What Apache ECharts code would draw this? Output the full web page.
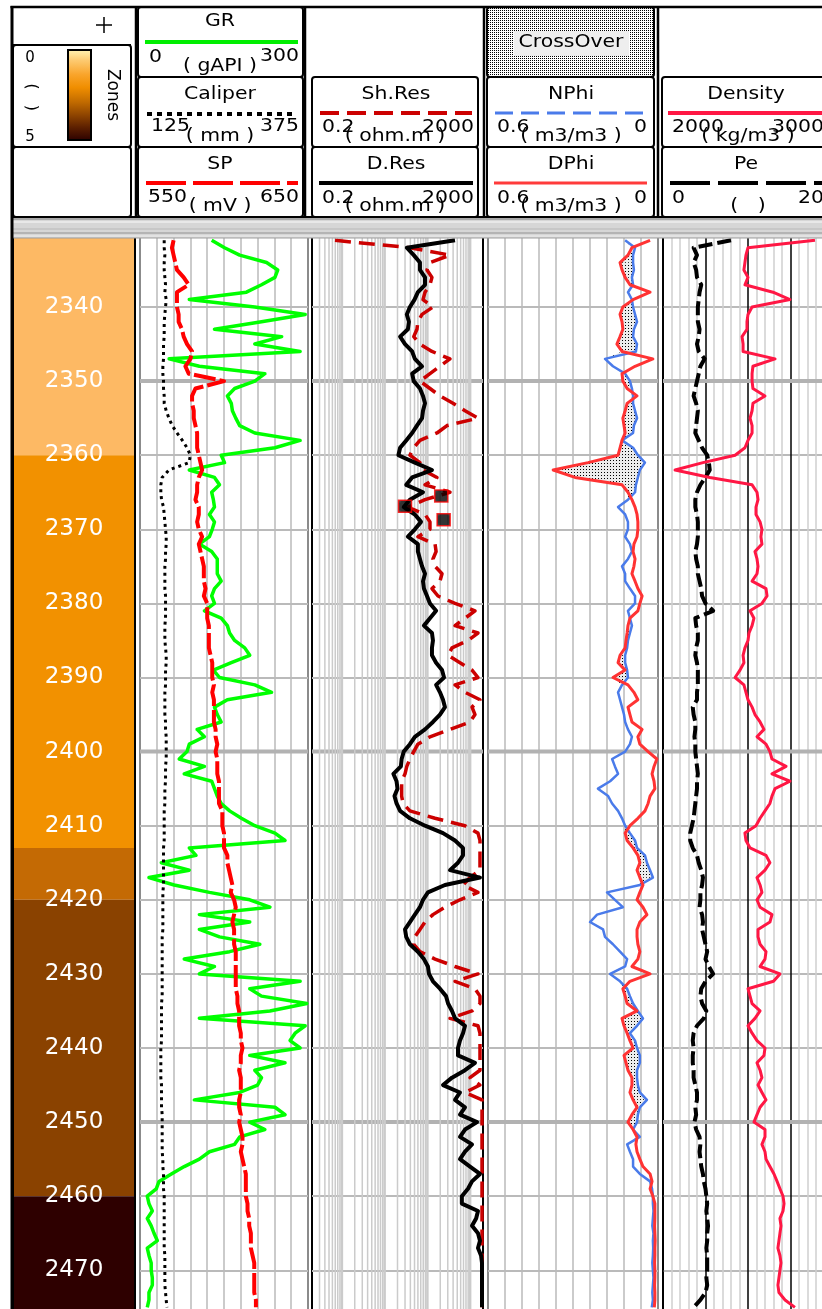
<!DOCTYPE html>
<html><head><meta charset="utf-8">
<script src="https://cdn.jsdelivr.net/npm/echarts@6/dist/echarts.min.js"></script>
<style>html,body{margin:0;padding:0;background:#fff;overflow:hidden}#c{width:822px;height:1309px}</style>
</head><body><div id="c"></div>
<script>
// ---------- DATA (1 m sampling) ----------
const DEPTH = [
 2331,2332,2333,2334,2335,2336,2337,2338,2339,2340,
 2341,2342,2343,2344,2345,2346,2347,2348,2349,2350,
 2351,2352,2353,2354,2355,2356,2357,2358,2359,2360,
 2361,2362,2363,2364,2365,2366,2367,2368,2369,2370,
 2371,2372,2373,2374,2375,2376,2377,2378,2379,2380,
 2381,2382,2383,2384,2385,2386,2387,2388,2389,2390,
 2391,2392,2393,2394,2395,2396,2397,2398,2399,2400,
 2401,2402,2403,2404,2405,2406,2407,2408,2409,2410,
 2411,2412,2413,2414,2415,2416,2417,2418,2419,2420,
 2421,2422,2423,2424,2425,2426,2427,2428,2429,2430,
 2431,2432,2433,2434,2435,2436,2437,2438,2439,2440,
 2441,2442,2443,2444,2445,2446,2447,2448,2449,2450,
 2451,2452,2453,2454,2455,2456,2457,2458,2459,2460,
 2461,2462,2463,2464,2465,2466,2467,2468,2469,2470,
 2471,2472,2473,2474,2475];
// GR (gAPI)
const GR = [
 128,151,178,226,246,241,217,190,88,205,
 295,217,133,253,205,286,52,106,223,205,
 169,156,163,165,171,178,205,286,241,145,
 151,88,133,142,128,131,133,124,133,129,
 124,106,128,138,138,138,145,133,128,133,
 115,145,156,160,169,187,196,163,131,142,
 205,235,156,133,138,145,102,115,88,84,
 70,115,79,128,133,138,145,160,181,205,
 241,259,88,100,38,88,16,61,124,196,
 232,106,196,106,142,214,160,79,133,106,
 286,196,217,298,232,106,295,277,268,286,
 196,259,205,217,210,178,97,241,259,196,
 223,178,169,124,106,79,56,34,29,13,
 16,22,13,20,25,31,13,16,20,20,
 22,22,16,16,13];
// Caliper (mm)
const CAL = [
 161,161,162,161,161,162,163,162,164,163,
 162,161,161,161,160,160,160,159,159,160,
 160,161,161,164,168,173,180,188,195,200,
 198,168,158,156,156,157,160,161,162,163,
 164,164,163,163,162,162,162,162,163,163,
 163,163,162,162,162,163,164,164,163,163,
 163,162,162,162,162,163,163,164,164,164,
 164,163,163,163,162,162,162,161,161,161,
 161,161,160,160,160,160,160,160,159,159,
 159,159,159,159,158,158,158,158,158,158,
 158,158,158,157,157,157,157,157,157,156,
 156,156,156,156,157,157,157,157,158,158,
 158,158,158,158,159,159,160,160,160,161,
 161,161,161,161,161,161,161,162,162,162,
 162,162,163,164,165];
// SP (mV)
const SP = [
 570,569,570,571,572,576,579,572,572,572,
 573,573,575,576,578,581,580,577,579,600,
 583,581,581,582,582,583,584,584,584,585,
 586,587,585,584,584,583,585,585,584,585,
 587,585,586,587,588,588,588,589,588,590,
 590,590,591,591,591,591,592,593,593,593,
 594,593,594,594,594,594,595,595,596,595,
 596,596,596,597,597,597,597,599,599,599,
 600,600,600,602,602,603,604,605,604,606,
 607,606,605,606,606,606,607,607,607,607,
 607,607,608,608,609,609,609,610,610,611,
 610,610,609,610,610,610,609,609,610,609,
 610,611,611,610,611,612,613,613,613,613,
 614,614,615,615,616,616,616,617,618,618,
 618,618,618,619,619];
// Shallow resistivity (ohm.m)
const SHRES = [
 0.69,39,338,115,98,128,115,88,79,135,
 75,60,57,48,67,128,338,197,115,67,
 115,197,397,759,1528,288,168,67,48,39,
 67,79,168,88,338,88,35,88,115,115,
 60,151,160,135,151,220,197,128,177,443,
 1300,759,443,1528,891,377,305,579,1107,1528,
 443,759,1700,1107,1300,993,338,115,60,48,
 39,33,30,25,25,25,27,39,151,759,
 1528,1700,1700,1700,1700,1700,993,681,1528,579,
 258,135,88,67,51,48,67,151,443,1528,
 443,1300,1700,1700,1107,338,1528,1700,1700,1700,
 1700,1700,1700,993,1700,759,1897,1897,1897,1897,
 1897,1897,1897,1897,1897,1897,1897,1897,1897,1897,
 1897,1897,1897,1897,1897,1897,1897,1897,1897,1897,
 1897,1897,1897,1897,1897];
// Deep resistivity (ohm.m)
const DRES = [
 443,33,48,67,67,88,88,60,50,39,
 33,37,35,23,30,44,51,75,44,48,
 67,79,88,79,75,57,44,32,23,21,
 51,128,44,32,79,39,28,51,71,51,
 35,60,60,67,75,88,79,83,98,115,
 160,115,83,128,135,128,128,160,220,245,
 160,197,232,258,197,135,88,51,39,28,
 25,24,16,19,20,17,19,23,39,88,
 232,443,681,681,520,338,1700,258,103,79,
 67,51,39,30,32,39,60,83,103,109,
 135,197,273,305,377,443,759,681,579,520,
 520,1300,759,377,232,579,443,759,579,1449,
 759,579,1107,759,579,993,1700,1107,891,640,
 640,1528,1380,1107,1528,1700,1528,1800,1897,1897,
 1897,1897,1897,1897,1897];
// Neutron porosity (m3/m3)
const NPHI = [
 0.116,0.081,0.088,0.088,0.085,0.092,0.088,0.106,0.092,0.088,
 0.081,0.074,0.085,0.088,0.074,0.078,0.187,0.159,0.116,0.099,
 0.092,0.088,0.088,0.081,0.074,0.085,0.088,0.127,0.088,0.071,
 0.046,0.064,0.071,0.078,0.081,0.106,0.141,0.116,0.106,0.106,
 0.116,0.099,0.092,0.106,0.127,0.116,0.116,0.099,0.081,0.081,
 0.106,0.099,0.092,0.099,0.106,0.109,0.116,0.116,0.109,0.106,
 0.127,0.141,0.134,0.127,0.120,0.116,0.106,0.092,0.099,0.116,
 0.162,0.152,0.141,0.169,0.212,0.176,0.162,0.141,0.127,0.116,
 0.099,0.081,0.074,0.046,0.039,0.028,0.018,0.064,0.180,0.152,
 0.124,0.215,0.240,0.194,0.187,0.159,0.134,0.109,0.116,0.169,
 0.134,0.109,0.099,0.088,0.071,0.053,0.074,0.099,0.081,0.074,
 0.064,0.064,0.074,0.074,0.071,0.064,0.039,0.064,0.071,0.074,
 0.088,0.064,0.109,0.099,0.088,0.088,0.064,0.028,0.021,0.018,
 0.018,0.016,0.018,0.020,0.016,0.018,0.017,0.018,0.020,0.018,
 0.016,0.018,0.020,0.018,0.022];
// Density porosity (m3/m3)
const DPHI = [
 0.028,0.092,0.106,0.134,0.127,0.116,0.099,0.028,0.088,0.124,
 0.134,0.127,0.124,0.134,0.145,0.127,0.018,0.081,0.127,0.124,
 0.109,0.074,0.109,0.116,0.124,0.120,0.116,0.127,0.134,0.141,
 0.247,0.370,0.293,0.127,0.106,0.092,0.081,0.074,0.071,0.071,
 0.074,0.085,0.088,0.081,0.085,0.092,0.081,0.071,0.056,0.064,
 0.071,0.099,0.106,0.109,0.113,0.116,0.134,0.141,0.116,0.159,
 0.106,0.085,0.071,0.106,0.099,0.092,0.056,0.071,0.064,0.035,
 0.004,0.014,0.021,0.014,0.011,0.028,0.035,0.046,0.071,0.099,
 0.116,0.109,0.088,0.071,0.064,0.074,0.064,0.053,0.064,0.074,
 0.053,0.039,0.064,0.074,0.074,0.071,0.064,0.071,0.092,0.028,
 0.099,0.124,0.116,0.109,0.074,0.127,0.120,0.109,0.099,0.088,
 0.120,0.113,0.106,0.092,0.092,0.099,0.088,0.074,0.092,0.106,
 0.088,0.074,0.078,0.074,0.064,0.053,0.028,0.021,0.028,0.018,
 0.011,0.011,0.011,0.012,0.011,0.010,0.011,0.011,0.012,0.011,
 0.011,0.012,0.011,0.011,0.013];
// Bulk density (kg/m3)
const RHOB = [
 2894,2500,2488,2482,2476,2500,2482,2647,2747,2524,
 2500,2494,2494,2465,2471,2471,2659,2529,2524,2524,
 2529,2600,2529,2524,2512,2524,2524,2500,2482,2424,
 2235,2071,2276,2524,2553,2559,2547,2547,2571,2582,
 2576,2582,2541,2553,2559,2553,2524,2606,2612,2582,
 2512,2535,2524,2506,2500,2482,2471,2476,2453,2424,
 2476,2488,2500,2524,2541,2571,2594,2553,2606,2629,
 2641,2724,2641,2747,2659,2641,2629,2600,2571,2547,
 2482,2488,2512,2606,2629,2600,2553,2571,2582,2553,
 2571,2641,2629,2559,2559,2571,2606,2600,2571,2688,
 2650,2500,2512,2524,2571,2541,2500,2524,2553,2600,
 2594,2553,2571,2582,2559,2582,2606,2571,2553,2535,
 2600,2600,2582,2600,2606,2629,2653,2671,2688,2706,
 2712,2706,2688,2694,2688,2682,2676,2688,2694,2688,
 2682,2676,2682,2718,2776];
// Photoelectric factor
const PE = [
 8.0,3.6,4.0,3.6,3.9,4.0,4.5,4.3,4.2,4.1,
 4.1,4.1,4.3,4.2,4.0,4.2,4.9,4.4,4.2,4.0,
 3.8,3.6,3.9,4.1,4.0,3.9,3.8,4.2,4.6,5.2,
 5.4,5.5,5.0,4.4,4.0,3.8,3.8,4.0,4.1,4.1,
 4.1,4.0,3.8,3.9,4.1,4.1,4.3,4.5,4.6,5.0,
 5.9,3.8,3.9,4.1,4.1,3.9,3.8,4.0,4.1,4.1,
 4.1,4.0,4.0,3.5,3.6,3.8,3.8,3.7,3.8,3.8,
 3.9,4.0,4.1,4.0,4.0,3.9,3.8,3.7,3.6,3.4,
 3.2,3.2,3.5,4.0,4.2,4.5,4.7,4.6,4.4,4.4,
 4.3,4.6,4.7,4.6,4.8,5.0,5.2,5.0,5.4,5.9,
 5.0,4.5,4.4,4.6,5.1,4.8,4.0,3.6,3.5,3.6,
 3.5,3.5,3.6,3.6,3.8,4.0,4.0,3.8,3.9,3.7,
 3.9,4.3,4.4,4.3,4.4,4.5,4.7,4.8,5.0,5.1,
 5.2,5.1,5.2,5.3,5.2,5.2,5.1,5.2,5.2,5.2,
 5.1,5.2,5.0,4.4,3.6];
// Zones
const ZONE_TOPS  = [2330, 2360, 2413, 2420, 2460];
const ZONE_BASES = [2360, 2413, 2420, 2460, 2476];
// Resistivity flags (ohm.m, depth)
const RES_FLAGS = [[211, 2365.5], [30, 2366.9], [240, 2368.7]];
// Grid definitions
const MAJOR_DEPTHS = [2350, 2400, 2450];
const LOG_GRID = [0.3,0.4,0.5,0.6,0.7,0.8,0.9,2,3,4,5,6,7,8,9,20,30,40,50,60,70,80,90,200,300,400,500,600,700,800,900];
const LOG_DECADES = [1, 10, 100, 1000];

// ---------- STYLE ----------
const ZONE_COLORS = ['#FDB964', '#F29100', '#C46A04', '#8A4200', '#2E0000'];
const GRID_TOP = 232.9, PXM = 7.41, DMIN = 2330, DMAX = 2476;
const GRID_H = (DMAX - DMIN) * PXM;

function makePattern(size, bg, dot, dx, dy) {
  const c = document.createElement('canvas'); c.width = size; c.height = size;
  const g = c.getContext('2d'); g.fillStyle = bg; g.fillRect(0, 0, size, size);
  g.fillStyle = dot; g.fillRect(dx || 0, dy || 0, 1, 1);
  return {image: c, repeat: 'repeat'};
}
const stippleHead = makePattern(2, '#ffffff', '#000000');
const stippleData = makePattern(3, '#ececec', '#000000', 1, 1);
const checker = makePattern(3, '#000000', '#ffffff', 1, 1);

const chart = echarts.init(document.getElementById('c'), null, {renderer: 'canvas', width: 822, height: 1309});

function depthAxis(gi, extra) {
  return Object.assign({gridIndex: gi, type: 'value', inverse: true, min: DMIN, max: DMAX, interval: 10,
    axisLine: {show: false}, axisTick: {show: false}, axisLabel: {show: false},
    splitLine: {show: true, lineStyle: {color: '#bababa', width: 2}}}, extra || {});
}
const hidden = {axisLine: {show: false}, axisTick: {show: false}, axisLabel: {show: false}};
function gridBox(left, width) {
  return {left, top: GRID_TOP, width, height: GRID_H, show: true, borderColor: '#000', borderWidth: 2,
    backgroundColor: '#fff', containLabel: false, outerBoundsMode: 'none'};
}
function hLineSeries(xi, yi, refX) {
  return {type: 'custom', xAxisIndex: xi, yAxisIndex: yi, z: 1, silent: true,
    data: MAJOR_DEPTHS.map(d => [refX, d]), encode: {x: 0, y: 1},
    renderItem: (params, api) => {
      const cs = params.coordSys; const y = api.coord([api.value(0), api.value(1)])[1];
      return {type: 'line', shape: {x1: cs.x, y1: y, x2: cs.x + cs.width, y2: y}, style: {stroke: '#b2b2b2', lineWidth: 4}};
    }};
}
function curve(xi, yi, vals, color, width, type, z) {
  return {type: 'line', xAxisIndex: xi, yAxisIndex: yi, showSymbol: false, silent: true, z: z || 3,
    data: DEPTH.map((d, i) => [vals[i], d]),
    lineStyle: {color, width, type: type || 'solid', cap: 'butt', join: 'round'}};
}
function vLogSeries(vals, width) {
  return {type: 'custom', xAxisIndex: 4, yAxisIndex: 2, z: 1, silent: true,
    data: vals.map(v => [v, 2400]), encode: {x: 0, y: 1},
    renderItem: (params, api) => {
      const cs = params.coordSys; const x = api.coord([api.value(0), 2400])[0];
      return {type: 'line', shape: {x1: x, y1: cs.y, x2: x, y2: cs.y + cs.height}, style: {stroke: '#cbcbcb', lineWidth: width}};
    }};
}

// ---------- HEADER (graphic) ----------
const F = '17px "DejaVu Sans"';
function txt(x, y, s, align, extra) {
  const a = align || 'center';
  return Object.assign({type: 'text', x, y, scaleX: 1.2, z: 120, silent: true,
    style: {text: s, font: F, fill: '#000', align: a, verticalAlign: 'middle', textAlign: a, textVerticalAlign: 'middle'}}, extra || {});
}
function ln(x1, y1, x2, y2, stroke, w, dash) {
  return {type: 'line', z: 115, silent: true, shape: {x1, y1, x2, y2}, style: {stroke, lineWidth: w, lineDash: dash || null, lineCap: 'butt'}};
}
function box(x, y, w, h, fill) {
  return {type: 'rect', z: 112, silent: true, shape: {x, y, width: w, height: h, r: 3}, style: {fill: fill || '#fff', stroke: '#000', lineWidth: 2}};
}
const G = [];
G.push({type: 'rect', z: 100, silent: true, shape: {x: 0, y: 0, width: 822, height: 218}, style: {fill: '#fff'}});
// gray band
G.push({type: 'rect', z: 101, silent: true, shape: {x: 12, y: 218, width: 810, height: 20}, style: {fill: '#d6d6d6'}});
G.push(ln(12, 219, 822, 219, '#9a9a9a', 1.5));
G.push(ln(12, 222, 822, 222, '#e8e8e8', 2));
G.push(ln(12, 229, 822, 229, '#c2c2c2', 1.5));
G.push(ln(12, 233, 822, 233, '#a8a8a8', 1.5));
G.push(ln(12, 236, 822, 236, '#e2e2e2', 2));
G.push(ln(12, 238, 822, 238, '#a0a0a0', 1));
// frame
G.push(ln(10.5, 7, 822, 7, '#000', 2.5));
G.push(ln(12, 6, 12, 1309, '#000', 3));
G.push(ln(12, 217, 822, 217, '#000', 2));
// depth header
G.push(ln(12, 45, 131, 45, '#000', 2));
G.push(box(13, 45, 118, 102));
G.push(box(13, 147, 118, 70));
G.push(ln(136, 6, 136, 218, '#000', 2.5));
G.push(ln(96, 25, 112, 25, '#000', 1.5));
G.push(ln(104, 17, 104, 33, '#000', 1.5));
G.push({type: 'rect', z: 113, silent: true, shape: {x: 68, y: 50, width: 23, height: 90},
  style: {stroke: '#000', lineWidth: 2, fill: {type: 'linear', x: 0, y: 0, x2: 0, y2: 1, colorStops: [
    {offset: 0, color: '#FFF6B8'}, {offset: 0.12, color: '#FDCB72'}, {offset: 0.28, color: '#F9A42A'},
    {offset: 0.42, color: '#F08E00'}, {offset: 0.58, color: '#C06A00'}, {offset: 0.72, color: '#8E4400'},
    {offset: 0.86, color: '#5A1E00'}, {offset: 1, color: '#2A0000'}]}}});
G.push(txt(30, 58, '0', 'center', {scaleX: 1, style: {text: '0', font: '15px "DejaVu Sans"', fill: '#000', align: 'center', verticalAlign: 'middle', textAlign: 'center', textVerticalAlign: 'middle'}}));
G.push(txt(30, 137, '5', 'center', {scaleX: 1, style: {text: '5', font: '15px "DejaVu Sans"', fill: '#000', align: 'center', verticalAlign: 'middle', textAlign: 'center', textVerticalAlign: 'middle'}}));
G.push(txt(31, 97, '(   )', 'center', {scaleX: 1, rotation: -Math.PI / 2, style: {text: '(   )', font: '16px "DejaVu Sans"', fill: '#000', align: 'center', verticalAlign: 'middle', textAlign: 'center', textVerticalAlign: 'middle'}}));
G.push(txt(112, 95, 'Zones', 'center', {scaleX: 1, rotation: -Math.PI / 2}));
// track 1 header
G.push(box(138, 7, 165, 70)); G.push(box(138, 77, 165, 70)); G.push(box(138, 147, 165, 70));
G.push(txt(220, 22, 'GR')); G.push(ln(145, 42, 298, 42, '#00ee00', 4));
G.push(txt(149, 58, '0', 'left')); G.push(txt(299, 57, '300', 'right')); G.push(txt(220, 67, '( gAPI )'));
G.push(txt(220, 95, 'Caliper')); G.push(ln(147, 114, 292, 114, '#000', 4, [5, 5]));
G.push(txt(151, 127, '125', 'left')); G.push(txt(299, 127, '375', 'right')); G.push(txt(220, 137, '( mm )'));
G.push(txt(220, 165, 'SP')); G.push(ln(146, 183, 298, 183, '#ff0000', 4, [40, 7]));
G.push(txt(148, 198, '550', 'left')); G.push(txt(299, 198, '650', 'right')); G.push(txt(220, 207, '( mV )'));
G.push(ln(305, 6, 305, 218, '#000', 2.5));
// track 2 header
G.push(box(312, 77, 166, 70)); G.push(box(312, 147, 166, 70));
G.push(txt(396, 95, 'Sh.Res')); G.push(ln(320, 113, 472, 113, '#cc0000', 4, [19, 8]));
G.push(txt(322, 128, '0.2', 'left')); G.push(txt(474, 128, '2000', 'right')); G.push(txt(395, 137, '( ohm.m )'));
G.push(txt(396, 165, 'D.Res')); G.push(ln(319, 183, 473, 183, '#000', 4));
G.push(txt(322, 199, '0.2', 'left')); G.push(txt(474, 199, '2000', 'right')); G.push(txt(395, 207, '( ohm.m )'));
G.push(ln(484, 6, 484, 218, '#000', 2.5));
// track 3 header
G.push(box(487, 7, 167, 70, stippleHead));
G.push({type: 'rect', z: 113, silent: true, shape: {x: 514, y: 31, width: 115, height: 25}, style: {fill: '#eeeeee'}});
G.push(txt(571, 43, 'CrossOver'));
G.push(box(487, 77, 167, 70)); G.push(box(487, 147, 167, 70));
G.push(txt(571, 95, 'NPhi')); G.push(ln(495, 113, 647, 113, '#4a7bea', 3, [18, 8]));
G.push(txt(497, 128, '0.6', 'left')); G.push(txt(647, 128, '0', 'right')); G.push(txt(571, 137, '( m3/m3 )'));
G.push(txt(571, 165, 'DPhi')); G.push(ln(494, 183, 647, 183, '#ff3b3b', 3));
G.push(txt(497, 199, '0.6', 'left')); G.push(txt(647, 199, '0', 'right')); G.push(txt(571, 207, '( m3/m3 )'));
G.push(ln(658, 6, 658, 218, '#000', 2.5));
// track 4 header
G.push(box(662, 77, 175, 70)); G.push(box(662, 147, 175, 70));
G.push(txt(746, 95, 'Density')); G.push(ln(668, 113, 830, 113, '#ff1744', 4));
G.push(txt(672, 128, '2000', 'left')); G.push(txt(824, 128, '3000', 'right')); G.push(txt(748, 137, '( kg/m3 )'));
G.push(txt(746, 165, 'Pe')); G.push(ln(670, 183, 830, 183, '#000', 4, [40, 8]));
G.push(txt(672, 199, '0', 'left')); G.push(txt(824, 199, '20', 'right')); G.push(txt(748, 207, '(   )'));

// sanity check
const bad = [['GR', GR], ['CAL', CAL], ['SP', SP], ['SHRES', SHRES], ['DRES', DRES], ['NPHI', NPHI], ['DPHI', DPHI], ['RHOB', RHOB], ['PE', PE]]
  .filter(a => a[1].length !== DEPTH.length).map(a => a[0] + ':' + a[1].length);
if (bad.length) G.push({type: 'text', x: 300, y: 600, z: 200, style: {text: 'LEN ' + bad.join(' '), font: '30px sans-serif', fill: '#f0f'}});

const option = {
  animation: false,
  grid: [
    Object.assign(gridBox(13, 122), {backgroundColor: 'transparent'}),
    gridBox(140, 168), gridBox(312, 171), gridBox(488, 170), gridBox(663, 170)
  ],
  xAxis: [
    {gridIndex: 0, type: 'value', min: 0, max: 1, show: false},
    Object.assign({gridIndex: 1, type: 'value', min: 0, max: 300, interval: 30,
      splitLine: {show: true, lineStyle: {color: '#bababa', width: 1.5}}}, hidden),
    {gridIndex: 1, type: 'value', min: 125, max: 375, show: false},
    {gridIndex: 1, type: 'value', min: 550, max: 650, show: false},
    {gridIndex: 2, type: 'log', logBase: 10, min: 0.2, max: 2000, show: false},
    Object.assign({gridIndex: 3, type: 'value', inverse: true, min: 0, max: 0.6, interval: 0.06,
      splitLine: {show: true, lineStyle: {color: '#bababa', width: 1.5}}}, hidden),
    Object.assign({gridIndex: 4, type: 'value', min: 2000, max: 3000, interval: 250,
      splitLine: {show: true, lineStyle: {color: '#000', width: 1.5}},
      minorTick: {show: false, splitNumber: 5},
      minorSplitLine: {show: true, lineStyle: {color: '#d0d0d0', width: 1.5}}}, hidden),
    {gridIndex: 4, type: 'value', min: 0, max: 20, show: false}
  ],
  yAxis: [
    depthAxis(0, {z: 10, splitLine: {show: false}, axisLabel: {show: true, inside: true, margin: 61, align: 'center',
      verticalAlign: 'middle', color: '#fff', fontSize: 23, fontFamily: 'DejaVu Sans', showMinLabel: false, showMaxLabel: false,
      formatter: v => String(v)}}),
    depthAxis(1), depthAxis(2), depthAxis(3), depthAxis(4)
  ],
  graphic: {elements: G},
  series: [
    {type: 'custom', xAxisIndex: 0, yAxisIndex: 0, z: 1, silent: true,
      data: ZONE_TOPS.map((t, i) => [0, t, ZONE_BASES[i]]), encode: {x: 0, y: [1, 2]},
      renderItem: (params, api) => {
        const cs = params.coordSys;
        const y1 = api.coord([0, api.value(1)])[1], y2 = api.coord([0, api.value(2)])[1];
        return {type: 'rect', shape: {x: cs.x + 1, y: y1, width: cs.width - 2, height: y2 - y1}, style: {fill: ZONE_COLORS[params.dataIndex]}};
      }},
    hLineSeries(1, 1, 150), hLineSeries(4, 2, 10), hLineSeries(5, 3, 0.3), hLineSeries(6, 4, 2500),
    vLogSeries(LOG_GRID, 1.5), vLogSeries(LOG_DECADES, 2.5),
    // track 1
    curve(1, 1, GR, '#00ff00', 3.5),
    curve(2, 1, CAL, '#000000', 3, [3, 4]),
    curve(3, 1, SP, '#ff0000', 4, [22, 4]),
    // track 2
    curve(4, 2, SHRES, '#cc0000', 3.5, [16, 8]),
    curve(4, 2, DRES, '#000000', 4),
    {type: 'scatter', xAxisIndex: 4, yAxisIndex: 2, z: 4, silent: true, symbol: 'rect', symbolSize: [13, 12],
      data: RES_FLAGS, itemStyle: {color: checker, borderColor: '#ff0000', borderWidth: 1.5}},
    // track 3
    {type: 'custom', xAxisIndex: 5, yAxisIndex: 3, z: 2, silent: true,
      data: DEPTH.map((d, i) => [NPHI[i], d]), encode: {x: 0, y: 1},
      renderItem: (params, api) => {
        const i = params.dataIndex;
        if (i >= DEPTH.length - 1) return null;
        const n0 = NPHI[i], n1 = NPHI[i + 1], p0 = DPHI[i], p1 = DPHI[i + 1];
        if (p0 <= n0 && p1 <= n1) return null;
        const pts = [api.coord([Math.max(p0, n0), DEPTH[i]]), api.coord([Math.max(p1, n1), DEPTH[i + 1]]),
                     api.coord([n1, DEPTH[i + 1]]), api.coord([n0, DEPTH[i]])];
        return {type: 'polygon', shape: {points: pts}, style: {fill: stippleData}};
      }},
    curve(5, 3, NPHI, '#4a7bea', 2.5),
    curve(5, 3, DPHI, '#ff3333', 3),
    // track 4
    curve(7, 4, PE, '#000000', 4, [14, 5]),
    curve(6, 4, RHOB, '#ff1744', 3)
  ]
};
chart.setOption(option);
</script>
</body></html>
